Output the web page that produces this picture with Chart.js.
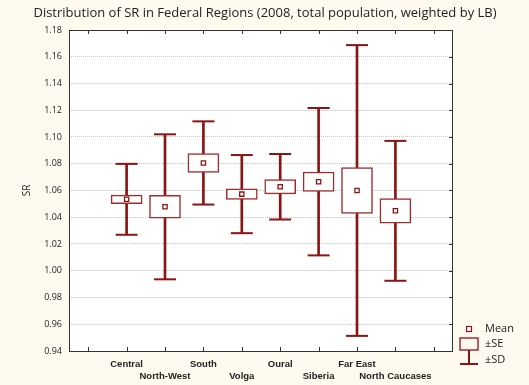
<!DOCTYPE html>
<html><head><meta charset="utf-8">
<script src="https://cdn.jsdelivr.net/npm/chart.js@4.4.0/dist/chart.umd.min.js"></script>
<style>html,body{margin:0;padding:0;background:#fefaf0;} #wrap{width:529px;height:385px;}</style>
</head><body><div id="wrap"><canvas id="c" width="529" height="385"></canvas></div>
<script>
const regions = ['Central','North-West','South','Volga','Oural','Siberia','Far East','North Caucases'];
const means  = [1.0534, 1.0478, 1.0806, 1.0573, 1.0628, 1.0666, 1.0600, 1.0448];
const seHalf = [0.0032, 0.0085, 0.0070, 0.0039, 0.0053, 0.0072, 0.0172, 0.0092];
const sdHalf = [0.0265, 0.0542, 0.0311, 0.0292, 0.0245, 0.0551, 0.1087, 0.0523];
const yTickValues = [0.94,0.96,0.98,1.00,1.02,1.04,1.06,1.08,1.10,1.12,1.14,1.16,1.18];
const xTickValues = [0,1,2,3,4,5,6,7,8,9];
const legendLabels = ['Mean','\u00b1SE','\u00b1SD'];
const titleText = 'Distribution of SR in Federal Regions (2008, total population, weighted by LB)';

const RED = '#8b1414';
const BOXRED = '#a02c2c';
const CREAM = '#fefaf0';

const stems = regions.map((r,i)=>({x:i+1, y:[means[i]-sdHalf[i], means[i]+sdHalf[i]]}));
const caps = [];
regions.forEach((r,i)=>{ caps.push({x:i+1,y:means[i]+sdHalf[i]}); caps.push({x:i+1,y:means[i]-sdHalf[i]}); });
const boxes = regions.map((r,i)=>({x:i+1, y:[means[i]-seHalf[i], means[i]+seHalf[i]]}));
const meanPts = regions.map((r,i)=>({x:i+1, y:means[i]}));

const bgPlugin = {
  id:'bg',
  beforeDraw(chart){
    const {ctx, chartArea:a} = chart;
    ctx.save();
    ctx.fillStyle = CREAM; ctx.fillRect(0,0,chart.width,chart.height);
    ctx.fillStyle = '#ffffff'; ctx.fillRect(a.left,a.top,a.right-a.left,a.bottom-a.top);
    ctx.restore();
  },
  afterDraw(chart){
    const {ctx, chartArea:a, scales} = chart;
    ctx.save();
    ctx.strokeStyle = '#333333'; ctx.lineWidth = 1;
    ctx.strokeRect(a.left+0.5, a.top+0.5, a.right-a.left-1, a.bottom-a.top);
    ctx.beginPath();
    xTickValues.forEach(v=>{
      const x = Math.round(scales.x.getPixelForValue(v))+0.5;
      ctx.moveTo(x,a.top); ctx.lineTo(x,a.top+4);
      ctx.moveTo(x,a.bottom); ctx.lineTo(x,a.bottom-4);
    });
    yTickValues.forEach(v=>{
      const y = Math.round(scales.y.getPixelForValue(v))+0.5;
      ctx.moveTo(a.right,y); ctx.lineTo(a.right-4,y);
    });
    ctx.stroke();
    // title
    ctx.fillStyle = '#222'; ctx.font = '13px "Open Sans"'; ctx.textBaseline='middle'; ctx.textAlign='center';
    ctx.fillText(titleText, 265, 13);
    // legend
    ctx.strokeStyle = RED; ctx.fillStyle = '#fff';
    ctx.lineWidth = 1.2;
    ctx.fillRect(466,326,6,6); ctx.strokeRect(466.5,326.5,5,5);
    ctx.strokeStyle = BOXRED; ctx.lineWidth = 1.5;
    ctx.strokeRect(460,338,18,12);
    ctx.strokeStyle = RED; ctx.lineWidth = 2;
    ctx.beginPath(); ctx.moveTo(469,350); ctx.lineTo(469,364); ctx.moveTo(460,364); ctx.lineTo(478,364); ctx.stroke();
    ctx.fillStyle = '#222'; ctx.font = '11px "Open Sans"'; ctx.textBaseline='middle'; ctx.textAlign='left';
    ctx.fillText(legendLabels[0],485,329);
    ctx.fillText(legendLabels[1],485,344);
    ctx.fillText(legendLabels[2],485,360);
    ctx.restore();
  }
};

new Chart(document.getElementById('c'), {
  type:'bar',
  data:{
    datasets:[
      {type:'bar', data:stems, backgroundColor:RED, borderWidth:0, barThickness:2, grouped:false, order:4},
      {type:'scatter', data:caps, pointStyle:'line', pointRadius:11, pointHoverRadius:11, borderColor:RED, borderWidth:2, order:3},
      {type:'bar', data:boxes, backgroundColor:'#ffffff', borderColor:BOXRED, borderWidth:1.5, borderSkipped:false, barThickness:31, grouped:false, order:2},
      {type:'scatter', data:meanPts, pointStyle:'rect', pointRadius:3, pointHoverRadius:3, backgroundColor:'#ffffff', borderColor:RED, borderWidth:1.3, order:1}
    ]
  },
  options:{
    responsive:false, animation:false, devicePixelRatio:1,
    layout:{padding:{left:0,right:76,top:30,bottom:0}},
    plugins:{ legend:{display:false}, tooltip:{enabled:false}, title:{display:false} },
    scales:{
      x:{type:'linear', min:-0.5, max:9.5, offset:false,
        afterBuildTicks(s){ s.ticks = xTickValues.map(v=>({value:v})); },
        afterFit(s){ s.height = 34; },
        grid:{display:false, drawTicks:false, offset:false}, border:{display:false},
        ticks:{autoSkip:false, maxRotation:0, minRotation:0, padding:7, color:'#222',
          font:{family:'"Liberation Sans"', size:9.5, weight:'bold', lineHeight:1.3},
          callback(v){ if(v<1||v>8) return ''; const n=regions[v-1]; return (v%2===1)?[n]:['',n]; }}
      },
      y:{type:'linear', min:0.94, max:1.18,
        afterBuildTicks(s){ s.ticks = yTickValues.map(v=>({value:v})); },
        afterFit(s){ s.width = 69; },
        grid:{color:'#c4c4c4', lineWidth:1, drawTicks:false}, border:{display:false, dash:[1,1]},
        ticks:{padding:7, color:'#222', font:{family:'"Open Sans"', size:9}, callback(v){ return Number(v).toFixed(2); }},
        title:{display:true, text:'SR', color:'#222', font:{family:'"Open Sans"', size:10}, padding:{top:21,bottom:0}}
      }
    }
  },
  plugins:[bgPlugin]
});
</script></body></html>
